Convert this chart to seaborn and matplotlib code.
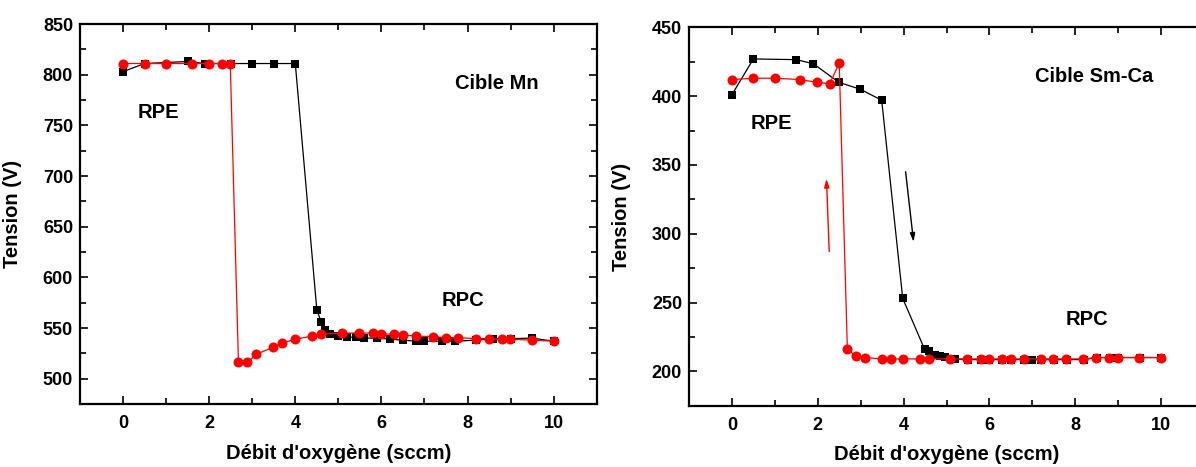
"""
Hysteresis of target voltage vs oxygen flow (Mn and Sm-Ca targets)
"""

import numpy as np
import pandas as pd
import matplotlib
matplotlib.use("Agg")
import matplotlib.pyplot as plt
from matplotlib.ticker import MultipleLocator
import seaborn as sns

# ─── Data: Mn target ─────────────────────────────────────────────────
mn_up_x = [0, 0.5, 1.5, 1.9, 2.5, 3.0, 3.5, 4.0, 4.5, 4.6, 4.7, 4.8, 5.0,
           5.2, 5.4, 5.6, 5.9, 6.2, 6.5, 6.8, 7.0, 7.4, 7.7, 8.2, 8.6,
           9.0, 9.5, 10]
mn_up_v = [803, 811, 813, 811, 811, 811, 811, 811, 568, 556, 548, 544, 542,
           541, 541, 540, 540, 539, 538, 537, 537, 537, 537, 538, 539.5,
           539.5, 540, 537]

mn_down_x = [0, 0.5, 1.0, 1.6, 2.0, 2.3, 2.49, 2.68, 2.89, 3.09, 3.49, 3.69,
             4.0, 4.39, 4.6, 5.09, 5.49, 5.8, 6.0, 6.29, 6.49, 6.81, 7.19,
             7.49, 7.79, 8.19, 8.49, 8.79, 8.98, 9.49, 10]
mn_down_v = [811, 811, 811, 811, 811, 811, 811, 516, 516, 524, 531, 535,
             539, 542, 544, 545, 545, 545, 544, 544, 543, 542, 541.5,
             540.5, 540.5, 539.5, 539.5, 539, 539, 538, 537]

# ─── Data: Sm-Ca target ──────────────────────────────────────────────
smca_up_x = [0, 0.5, 1.5, 1.9, 2.49, 2.99, 3.49, 3.98, 4.49, 4.6, 4.73,
             4.85, 4.96, 5.2, 5.5, 5.8, 6.0, 6.3, 6.5, 6.8, 7.0, 7.2, 7.5,
             7.8, 8.2, 8.5, 8.8, 9.0, 9.5, 10]
smca_up_v = [401, 427, 426.5, 423.5, 410, 405, 397, 253, 216, 214.5, 212,
             211, 210.5, 209, 208.5, 208.5, 208.5, 208.5, 208.5, 208.5, 208.5,
             208.5, 208.5, 208.5, 208.5, 210, 210, 210, 210, 210]

smca_down_x = [0, 0.5, 1.0, 1.59, 1.99, 2.28, 2.5, 2.69, 2.89, 3.1, 3.49,
               3.7, 3.98, 4.39, 4.6, 5.09, 5.47, 5.8, 6.0, 6.29, 6.5, 6.8,
               7.2, 7.48, 7.78, 8.19, 8.49, 8.79, 9.0, 9.49, 10]
smca_down_v = [412, 413, 413, 412, 410, 409, 424, 216, 211, 210, 209, 209,
               209, 209, 209, 209, 209, 209, 209, 209, 209, 209, 209, 209,
               209, 209, 210, 210, 210, 210, 210]

# ─── Style ───────────────────────────────────────────────────────────
sns.set_style("ticks")
plt.rcParams["font.family"] = ["Liberation Sans", "DejaVu Sans"]
plt.rcParams["font.weight"] = "bold"
plt.rcParams["axes.labelweight"] = "bold"
for key in ["text.color", "axes.labelcolor", "xtick.color", "ytick.color",
            "axes.edgecolor"]:
    plt.rcParams[key] = "black"

RED = "#ff0000"
BLACK = "#000000"


def draw_series(ax, x, v, color, marker, ms):
    df = pd.DataFrame({"x": x, "v": v})
    sns.lineplot(data=df, x="x", y="v", ax=ax, color=color, lw=0.9,
                 marker=marker, markersize=ms, markeredgewidth=0,
                 markerfacecolor=color, sort=False, estimator=None)


def style_axes(ax, ylim, ymajor):
    ax.set_xlim(-1, 11)
    ax.set_ylim(*ylim)
    ax.xaxis.set_major_locator(MultipleLocator(2))
    ax.xaxis.set_minor_locator(MultipleLocator(1))
    ax.yaxis.set_major_locator(MultipleLocator(ymajor))
    ax.yaxis.set_minor_locator(MultipleLocator(ymajor / 2))
    ax.tick_params(which="both", direction="in", top=True, right=True,
                   width=1.2, labelsize=13, colors="black")
    ax.tick_params(which="major", length=6)
    ax.tick_params(which="minor", length=4)
    ax.tick_params(axis="x", pad=8)
    ax.tick_params(axis="y", pad=5)
    for lab in ax.get_xticklabels() + ax.get_yticklabels():
        lab.set_fontweight("bold")
    for s in ax.spines.values():
        s.set_linewidth(1.6)
        s.set_color("black")
    ax.set_xlabel("Débit d'oxygène (sccm)", fontsize=14.5, fontweight="bold")
    ax.set_ylabel("Tension (V)", fontsize=14.5, fontweight="bold")
    ax.xaxis.set_label_coords(0.5, -0.105)
    ax.yaxis.set_label_coords(-0.112, 0.5)


fig = plt.figure(figsize=(11.96, 4.67), dpi=100)
ax1 = fig.add_axes([80 / 1196, 63 / 467, 516.7 / 1196, 380 / 467])
ax2 = fig.add_axes([689 / 1196, 61.3 / 467, 515 / 1196, 378.4 / 467])

# Mn panel
draw_series(ax1, mn_up_x, mn_up_v, BLACK, "s", 6.2)
draw_series(ax1, mn_down_x, mn_down_v, RED, "o", 7.2)
style_axes(ax1, (475, 850), 50)
ax1.text(8.68, 791, "Cible Mn", ha="center", va="center", fontsize=14.5, fontweight="bold")
ax1.text(0.82, 763, "RPE", ha="center", va="center", fontsize=14.5, fontweight="bold")
ax1.text(7.9, 577, "RPC", ha="center", va="center", fontsize=14.5, fontweight="bold")

# Sm-Ca panel
draw_series(ax2, smca_up_x, smca_up_v, BLACK, "s", 6.2)
draw_series(ax2, smca_down_x, smca_down_v, RED, "o", 7.2)
style_axes(ax2, (175, 450), 50)
ax2.text(8.43, 414, "Cible Sm-Ca", ha="center", va="center", fontsize=14.5, fontweight="bold")
ax2.text(0.92, 380, "RPE", ha="center", va="center", fontsize=14.5, fontweight="bold")
ax2.text(8.27, 238, "RPC", ha="center", va="center", fontsize=14.5, fontweight="bold")

ax2.annotate("", xy=(2.2, 342), xytext=(2.27, 285),
             arrowprops=dict(arrowstyle="-|>,head_length=0.5,head_width=0.15",
                             color=RED, lw=1))
ax2.annotate("", xy=(4.24, 292), xytext=(4.04, 347),
             arrowprops=dict(arrowstyle="-|>,head_length=0.5,head_width=0.15",
                             color=BLACK, lw=1))

plt.savefig("out.png", dpi=100)
plt.close()
